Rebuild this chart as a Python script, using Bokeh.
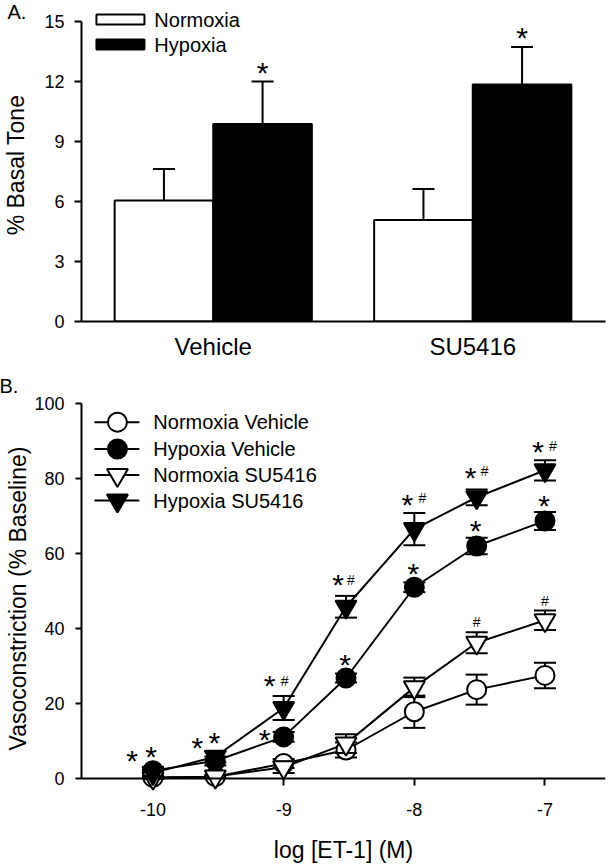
import numpy as np
from bokeh.plotting import figure
from bokeh.models import Range1d, FixedTicker, Label, ColumnDataSource, LinearAxis, Title
from bokeh.layouts import column
from bokeh.core.properties import value
from bokeh.embed import file_html
from bokeh.resources import INLINE

FONT = "Liberation Sans"

# ---------------- data: panel A ----------------
groups_A = ["Vehicle", "SU5416"]
legend_A = ["Normoxia", "Hypoxia"]
normoxia_mean_A = [6.05, 5.08]
normoxia_sem_A = [1.57, 1.54]
hypoxia_mean_A = [9.87, 11.85]
hypoxia_sem_A = [2.13, 1.88]
hypoxia_sig_A = ["*", "*"]
yticks_A = [0, 3, 6, 9, 12, 15]

# ---------------- data: panel B ----------------
et1_conc_M = [1e-10, 3e-10, 1e-9, 3e-9, 1e-8, 3e-8, 1e-7]
series_B = ["Normoxia Vehicle", "Hypoxia Vehicle", "Normoxia SU5416", "Hypoxia SU5416"]
norm_veh_mean = [0.3, 0.5, 4.0, 7.6, 17.8, 23.7, 27.5]
norm_veh_sem = [0.3, 0.4, 1.2, 2.0, 4.3, 4.0, 3.4]
hyp_veh_mean = [2.1, 4.7, 11.1, 26.8, 51.0, 62.0, 68.7]
hyp_veh_sem = [0.8, 1.2, 1.3, 1.2, 1.3, 2.2, 2.4]
norm_su_mean = [0.2, 0.5, 3.0, 9.3, 24.3, 36.2, 42.2]
norm_su_sem = [0.3, 0.4, 1.5, 2.5, 2.6, 2.8, 2.6]
hyp_su_mean = [1.5, 5.8, 18.8, 45.8, 66.5, 75.0, 82.2]
hyp_su_sem = [0.8, 1.5, 3.2, 2.9, 4.3, 2.1, 2.7]
xticks_B = [-10, -9, -8, -7]
yticks_B = [0, 20, 40, 60, 80, 100]
# significance marks: series index, concentration index, symbol
sig_series = [3, 3, 3, 3, 3, 3, 3, 3, 3, 3, 3, 3, 1, 1, 1, 1, 1, 1, 1, 2, 2]
sig_index = [0, 1, 2, 2, 3, 3, 4, 4, 5, 5, 6, 6, 0, 1, 2, 3, 4, 5, 6, 5, 6]
sig_symbol = ["*", "*", "*", "#", "*", "#", "*", "#", "*", "#", "*", "#",
              "*", "*", "*", "*", "*", "*", "*", "#", "#"]

# ---------------- layout (placement only) ----------------
W = 608
A_H, A_L, A_R, A_T, A_B = 363, 80, 3, 8, 42
B_H, B_L, B_R, B_T, B_B = 504, 80, 3, 40, 74
A_XR, A_YR = (0.4923, 2.5115), (0.0, 15.65)
B_XR, B_YR = (-10.547, -6.537), (-4.0, 100.0)
A_PAGE_TOP, B_PAGE_TOP = 0, A_H


def ref_to_data(rx, ry, geom):
    left, top, fw, fh, xr, yr, page_top = geom
    px = rx
    py = ry - page_top
    x = xr[0] + (px - left) / fw * (xr[1] - xr[0])
    y = yr[1] - (py - top) / fh * (yr[1] - yr[0])
    return x, y


GA = (A_L, A_T, W - A_L - A_R, A_H - A_T - A_B, A_XR, A_YR, A_PAGE_TOP)
GB = (B_L, B_T, W - B_L - B_R, B_H - B_T - B_B, B_XR, B_YR, B_PAGE_TOP)

STAR_SIZE, HASH_SIZE = 30, 14
STAR_C, HASH_C = 0.14, 0.0


def style_axis(ax, size, tick_out, standoff):
    ax.axis_line_width = 2
    ax.axis_line_color = "black"
    ax.major_tick_line_width = 2
    ax.major_tick_line_color = "black"
    ax.minor_tick_line_color = None
    ax.major_tick_in = 0
    ax.major_tick_out = tick_out
    ax.major_label_standoff = standoff
    ax.major_label_text_font = FONT
    ax.major_label_text_font_size = size
    ax.major_label_text_color = "black"
    ax.axis_label_text_font = FONT
    ax.axis_label_text_font_style = "normal"
    ax.axis_label_text_font_size = "23px"
    ax.axis_label_text_color = "black"


def add_marks(p, xs, ys, syms, dxs, rises):
    for sym, size, c in (("*", STAR_SIZE, STAR_C), ("#", HASH_SIZE, HASH_C)):
        idx = [i for i, s in enumerate(syms) if s == sym]
        if not idx:
            continue
        src = ColumnDataSource(dict(
            x=[xs[i] for i in idx], y=[ys[i] for i in idx], t=[sym] * len(idx),
            xo=[dxs[i] for i in idx], yo=[-rises[i] + c * size for i in idx]))
        p.text(x="x", y="y", text="t", x_offset="xo", y_offset="yo", source=src,
               text_font=value(FONT), text_font_size=f"{size}px", text_color="black",
               text_align="center", text_baseline="alphabetic")


def panel_letter(text, offset, standoff):
    return Title(text=text, align="left", offset=offset, standoff=standoff, text_font=FONT,
                 text_font_size="20px", text_font_style="normal", text_color="black")


# ================= Panel A =================
pA = figure(width=W, height=A_H, x_range=Range1d(*A_XR), y_range=Range1d(*A_YR),
            output_backend="svg", toolbar_location=None,
            min_border_left=A_L, min_border_right=A_R, min_border_top=A_T, min_border_bottom=A_B)
pA.outline_line_color = None
pA.grid.visible = False

cats = np.arange(1, len(groups_A) + 1).astype(float)
BAR_W = 0.38
xn = cats - BAR_W / 2
xh = cats + BAR_W / 2

style_axis(pA.yaxis[0], "18px", 7, 10)
pA.yaxis[0].ticker = FixedTicker(ticks=yticks_A)
pA.yaxis[0].bounds = (0, 15)
pA.yaxis[0].axis_label = "% Basal Tone"
pA.yaxis[0].axis_label_standoff = 12
style_axis(pA.xaxis[0], "24px", 0, 11)
pA.xaxis[0].ticker = FixedTicker(ticks=list(cats))
pA.xaxis[0].major_label_overrides = {float(c): g for c, g in zip(cats, groups_A)}

for xs, m, s, fill in ((xn, normoxia_mean_A, normoxia_sem_A, "white"),
                       (xh, hypoxia_mean_A, hypoxia_sem_A, "black")):
    top = [a + b for a, b in zip(m, s)]
    pA.segment(x0=xs, y0=m, x1=xs, y1=top, line_color="black", line_width=2)
    pA.scatter(x=xs, y=top, marker="dash", size=22, line_color="black", line_width=2)
    pA.vbar(x=xs, top=m, bottom=0, width=BAR_W, fill_color=fill,
            line_color="black", line_width=2)

add_marks(pA, list(xh), [a + b for a, b in zip(hypoxia_mean_A, hypoxia_sem_A)],
          hypoxia_sig_A, [0, 0], [13.5, 13.5])

# legend A
for i, (lab, fill) in enumerate(zip(legend_A, ["white", "black"])):
    ry = 19 + 25 * i
    lx, ly = ref_to_data(119, ry, GA)
    tx, ty = ref_to_data(153, ry, GA)
    pA.rect(x=[lx], y=[ly], width=48, height=10, width_units="screen", height_units="screen",
            fill_color=fill, line_color="black", line_width=2)
    pA.add_layout(Label(x=tx, y=ty, text=lab, text_font=FONT, text_font_size="20px",
                        text_baseline="middle", text_align="left", text_color="black"))

# panel letter: title pulled down next to the top of the value axis
pA.add_layout(panel_letter("A.", -A_L + 6, -28), "above")

# ================= Panel B =================
pB = figure(width=W, height=B_H, x_range=Range1d(*B_XR), y_range=Range1d(*B_YR),
            output_backend="svg", toolbar_location=None,
            min_border_left=B_L, min_border_right=B_R, min_border_top=B_T, min_border_bottom=B_B)
pB.outline_line_color = None
pB.grid.visible = False

style_axis(pB.yaxis[0], "18px", 6, 11)
pB.yaxis[0].ticker = FixedTicker(ticks=yticks_B)
pB.yaxis[0].bounds = (0, 100)
pB.yaxis[0].axis_label = "Vasoconstriction (% Baseline)"
pB.yaxis[0].axis_label_standoff = 0

# x axis: labels at the frame edge, line and ticks at y = 0
style_axis(pB.xaxis[0], "18px", 0, 9)
pB.xaxis[0].ticker = FixedTicker(ticks=xticks_B)
pB.xaxis[0].major_label_overrides = {float(t): str(t) for t in xticks_B}
pB.xaxis[0].axis_line_color = None
pB.xaxis[0].major_tick_line_color = None
pB.xaxis[0].axis_label = "log [ET-1] (M)"
pB.xaxis[0].axis_label_standoff = 18
zero_axis = LinearAxis(fixed_location=0, ticker=FixedTicker(ticks=xticks_B))
style_axis(zero_axis, "0px", 0, 0)
zero_axis.major_tick_in = 7
zero_axis.major_label_text_alpha = 0
pB.add_layout(zero_axis, "above")

pB.add_layout(panel_letter("B.", -B_L - 2, 14), "above")

xB = list(np.log10(et1_conc_M))
means = [norm_veh_mean, hyp_veh_mean, norm_su_mean, hyp_su_mean]
sems = [norm_veh_sem, hyp_veh_sem, norm_su_sem, hyp_su_sem]
markers = ["circle", "circle", "inverted_triangle", "inverted_triangle"]
sizes = [19, 19, 21, 21]
fills = ["white", "black", "white", "black"]

for m in means:
    pB.line(x=xB, y=m, line_color="black", line_width=2)
for m, s, mk, sz, f in zip(means, sems, markers, sizes, fills):
    lo = [a - b for a, b in zip(m, s)]
    hi = [a + b for a, b in zip(m, s)]
    pB.segment(x0=xB, y0=lo, x1=xB, y1=hi, line_color="black", line_width=2)
    pB.scatter(x=xB + xB, y=lo + hi, marker="dash", size=22, line_color="black", line_width=2)
    pB.scatter(x=xB, y=m, marker=mk, size=sz, fill_color=f, line_color="black", line_width=2)

# significance marks placement (px offsets; anchor 'e' = top of error bar, 'p' = point)
sig_dx = [-2, -1, -14, 1, -8, 5, -7, 8, -6, 8, -7, 8, -21, -18, -19, -1, -1, -1, -1, 0, 0]
sig_rise = [18, 13, 15, 15, 16, 16, 13, 15, 16, 18, 13, 14, 14, 18, 2, 13, 13, 11, 11, 10, 10]
sig_anchor = ["e"] * 12 + ["p", "p", "p", "e", "e", "e", "e", "e", "e"]
sx_ = [xB[i] for i in sig_index]
sy_ = [means[s][i] + (sems[s][i] if a == "e" else 0) for s, i, a in zip(sig_series, sig_index, sig_anchor)]
add_marks(pB, sx_, sy_, sig_symbol, sig_dx, sig_rise)

# legend B
leg_rows = [421.7, 448.5, 474.5, 500]
for name, mk, sz, f, ry in zip(series_B, markers, sizes, fills, leg_rows):
    lx0, ly = ref_to_data(93, ry, GB)
    lx1, _ = ref_to_data(138, ry, GB)
    mx, _ = ref_to_data(116, ry, GB)
    tx, _ = ref_to_data(152, ry, GB)
    pB.line(x=[lx0, lx1], y=[ly, ly], line_color="black", line_width=2)
    pB.scatter(x=[mx], y=[ly], marker=mk, size=sz, fill_color=f, line_color="black", line_width=2)
    pB.add_layout(Label(x=tx, y=ly, text=name, text_font=FONT, text_font_size="20px",
                        text_baseline="middle", text_align="left", text_color="black"))

layout = column(pA, pB, spacing=0)
open("out.html", "w").write(file_html(layout, INLINE))
